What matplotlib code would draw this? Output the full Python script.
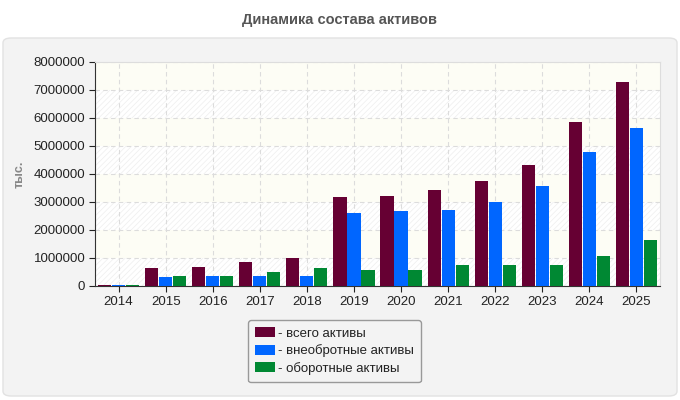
import matplotlib.pyplot as plt
from matplotlib.patches import FancyBboxPatch, Rectangle
import numpy as np

years = ['2014', '2015', '2016', '2017', '2018', '2019', '2020', '2021',
         '2022', '2023', '2024', '2025']
total = [40000, 650000, 680000, 860000, 1000000, 3190000, 3220000, 3440000,
         3760000, 4330000, 5870000, 7270000]
noncurrent = [30000, 320000, 360000, 360000, 360000, 2610000, 2690000, 2720000,
              3010000, 3580000, 4800000, 5660000]
current = [35000, 360000, 360000, 500000, 645000, 570000, 570000, 750000,
           750000, 750000, 1070000, 1650000]
labels = ['- всего активы', '- внеобротные активы', '- оборотные активы']
colors = ['#660033', '#0066ff', '#008833']

plt.rcParams['font.family'] = ['Liberation Sans', 'DejaVu Sans']
plt.rcParams['hatch.linewidth'] = 0.5

fig = plt.figure(figsize=(6.8, 4.0), dpi=100)
fig.patch.set_facecolor('white')

# grey panel behind the chart
panel = FancyBboxPatch((3 / 680, 4 / 400), 674 / 680, 358 / 400,
                       boxstyle='round,pad=0,rounding_size=0.012',
                       transform=fig.transFigure, facecolor='#f3f3f3',
                       edgecolor='#e2e2e2', lw=1, zorder=-10)
fig.patches.append(panel)

fig.text(0.5, 1 - 20 / 400, 'Динамика состава активов', ha='center',
         va='center', fontsize=10.5, fontweight='bold', color='#555555')

ax = fig.add_axes([95 / 680, 1 - 286 / 400, 565 / 680, 224 / 400])
ax.set_zorder(5)
ax.set_facecolor('#fdfdf5')

x = np.arange(len(years))
ax.set_xlim(-0.5, len(years) - 0.5)
ax.set_ylim(0, 8000000)

# alternating hatched bands
for i in range(0, 8, 2):
    ax.add_patch(Rectangle((-0.5, i * 1000000), len(years), 1000000,
                           facecolor='white', edgecolor='#eeeeee', hatch='//////',
                           lw=0, zorder=0))

w = 0.28
step = 0.297
for k, (vals, c, lab) in enumerate(zip([total, noncurrent, current], colors, labels)):
    ax.bar(x + (k - 1) * step, vals, width=w, color=c, label=lab, zorder=3)

ax.set_yticks(np.arange(0, 8000001, 1000000))
ax.set_yticklabels([str(v) for v in range(0, 8000001, 1000000)])
ax.set_xticks(x)
ax.set_xticklabels(years)
ax.tick_params(labelsize=9.5, colors='#222222', length=4, width=0.8, pad=3)
ax.grid(True, color='#dcdcdc', linestyle=(0, (4, 3)), lw=0.8, zorder=1)
ax.set_axisbelow(True)

for s in ['top', 'right']:
    ax.spines[s].set_color('#dddddd')
for s in ['left', 'bottom']:
    ax.spines[s].set_color('#333333')

fig.text(20 / 680, 1 - 174 / 400, 'тыс.', rotation=90, ha='center', va='center',
         fontsize=9, fontweight='bold', color='#888888')

leg = ax.legend(loc='upper left', bbox_to_anchor=(248 / 680, 1 - 320 / 400),
                bbox_transform=fig.transFigure, frameon=True, fontsize=9.5,
                handlelength=1.5, handleheight=0.8, handletextpad=0.2,
                labelspacing=0.35, borderpad=0.55, fancybox=True,
                borderaxespad=0)
leg.get_frame().set_facecolor('#f3f3f3')
leg.get_frame().set_edgecolor('#999999')
leg.get_frame().set_alpha(1)
for t in leg.get_texts():
    t.set_color('#222222')

fig.savefig('out.png', dpi=100)
